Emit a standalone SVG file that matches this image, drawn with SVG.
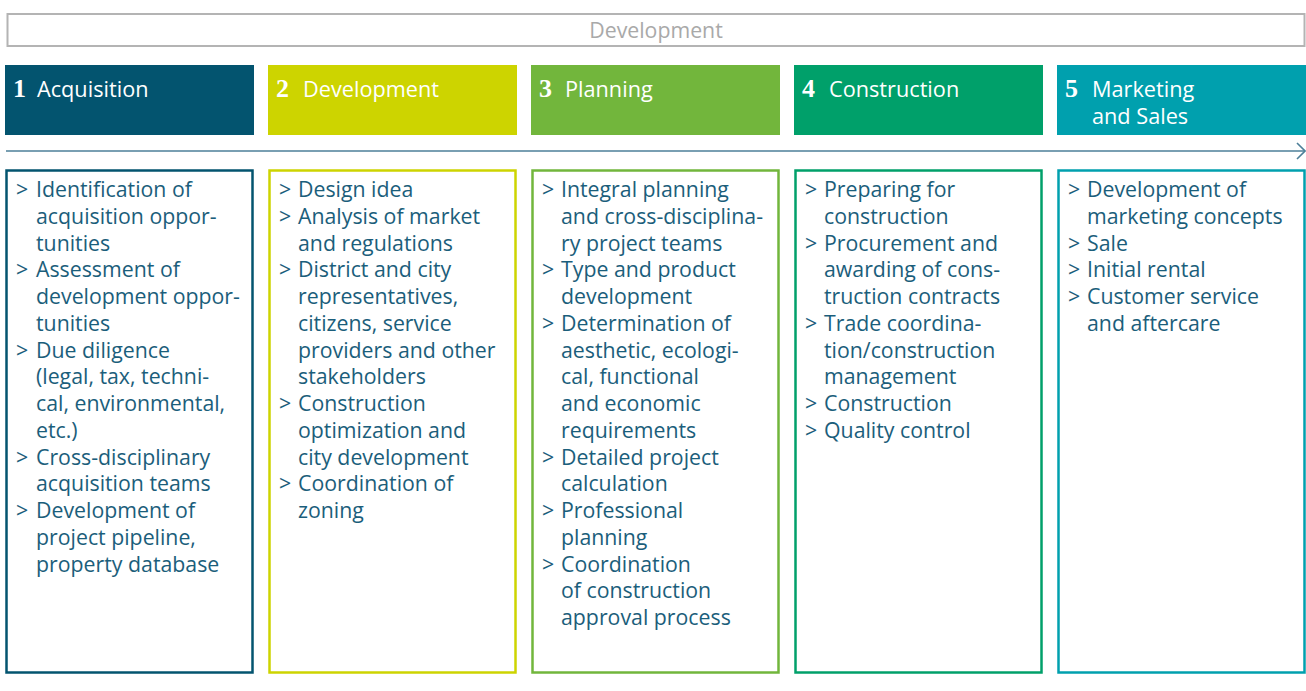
<svg xmlns="http://www.w3.org/2000/svg" width="1306" height="691" viewBox="0 0 1306 691">
  <style>
    .hd { font-family: "Open Sans", "Liberation Sans", sans-serif; font-size: 21.7px; fill: #ffffff; }
    .num { font-family: "Liberation Serif", serif; font-weight: bold; font-size: 26px; fill: #ffffff; }
    .tx { font-family: "Open Sans", "Liberation Sans", sans-serif; font-size: 21.3px; fill: #1b5e7b; }
    .box { fill: #ffffff; stroke-width: 2.5; }
  </style>
  <rect width="1306" height="691" fill="#ffffff"/>

  <!-- overall phase banner -->
  <g id="banner">
    <rect x="7.5" y="14" width="1297" height="32" fill="#ffffff" stroke="#b4b4b4" stroke-width="2"/>
    <text x="656" y="38" text-anchor="middle" font-family="'Open Sans', 'Liberation Sans', sans-serif" font-size="21.3" fill="#a9a9a9">Development</text>
  </g>

  <!-- timeline arrow -->
  <g id="connectors">
    <line x1="6" y1="151" x2="1305" y2="151" stroke="#4d7f98" stroke-width="1.6"/>
    <polyline points="1297,143 1305,151 1297,159" fill="none" stroke="#4d7f98" stroke-width="1.6"/>
  </g>

  <!-- 1 Acquisition -->
  <g id="acquisition">
    <rect x="5" y="65" width="249" height="70" fill="#03546f"/>
    <text class="num" x="13" y="97">1</text>
    <text class="hd" x="37" y="97">Acquisition</text>
    <rect class="box" x="6.5" y="170.5" width="246" height="502" stroke="#03546f"/>
    <text class="tx">
      <tspan x="16" y="197">&gt;</tspan><tspan x="36" y="197">Identification of</tspan>
      <tspan x="36" y="223.75">acquisition oppor-</tspan>
      <tspan x="36" y="250.5">tunities</tspan>
      <tspan x="16" y="277.25">&gt;</tspan><tspan x="36" y="277.25">Assessment of</tspan>
      <tspan x="36" y="304">development oppor-</tspan>
      <tspan x="36" y="330.75">tunities</tspan>
      <tspan x="16" y="357.5">&gt;</tspan><tspan x="36" y="357.5">Due diligence</tspan>
      <tspan x="36" y="384.25">(legal, tax, techni-</tspan>
      <tspan x="36" y="411">cal, environmental,</tspan>
      <tspan x="36" y="437.75">etc.)</tspan>
      <tspan x="16" y="464.5">&gt;</tspan><tspan x="36" y="464.5">Cross-disciplinary</tspan>
      <tspan x="36" y="491.25">acquisition teams</tspan>
      <tspan x="16" y="518">&gt;</tspan><tspan x="36" y="518">Development of</tspan>
      <tspan x="36" y="544.75">project pipeline,</tspan>
      <tspan x="36" y="571.5">property database</tspan>
    </text>
  </g>

  <!-- 2 Development -->
  <g id="development">
    <rect x="268" y="65" width="249" height="70" fill="#cdd400"/>
    <text class="num" x="276" y="97">2</text>
    <text class="hd" x="303" y="97">Development</text>
    <rect class="box" x="269.5" y="170.5" width="246" height="502" stroke="#cdd400"/>
    <text class="tx">
      <tspan x="279" y="197">&gt;</tspan><tspan x="298" y="197">Design idea</tspan>
      <tspan x="279" y="223.75">&gt;</tspan><tspan x="298" y="223.75">Analysis of market</tspan>
      <tspan x="298" y="250.5">and regulations</tspan>
      <tspan x="279" y="277.25">&gt;</tspan><tspan x="298" y="277.25">District and city</tspan>
      <tspan x="298" y="304">representatives,</tspan>
      <tspan x="298" y="330.75">citizens, service</tspan>
      <tspan x="298" y="357.5">providers and other</tspan>
      <tspan x="298" y="384.25">stakeholders</tspan>
      <tspan x="279" y="411">&gt;</tspan><tspan x="298" y="411">Construction</tspan>
      <tspan x="298" y="437.75">optimization and</tspan>
      <tspan x="298" y="464.5">city development</tspan>
      <tspan x="279" y="491.25">&gt;</tspan><tspan x="298" y="491.25">Coordination of</tspan>
      <tspan x="298" y="518">zoning</tspan>
    </text>
  </g>

  <!-- 3 Planning -->
  <g id="planning">
    <rect x="531" y="65" width="249" height="70" fill="#72b63c"/>
    <text class="num" x="539" y="97">3</text>
    <text class="hd" x="565" y="97">Planning</text>
    <rect class="box" x="532.5" y="170.5" width="246" height="502" stroke="#72b63c"/>
    <text class="tx">
      <tspan x="542" y="197">&gt;</tspan><tspan x="561" y="197">Integral planning</tspan>
      <tspan x="561" y="223.75">and cross-disciplina-</tspan>
      <tspan x="561" y="250.5">ry project teams</tspan>
      <tspan x="542" y="277.25">&gt;</tspan><tspan x="561" y="277.25">Type and product</tspan>
      <tspan x="561" y="304">development</tspan>
      <tspan x="542" y="330.75">&gt;</tspan><tspan x="561" y="330.75">Determination of</tspan>
      <tspan x="561" y="357.5">aesthetic, ecologi-</tspan>
      <tspan x="561" y="384.25">cal, functional</tspan>
      <tspan x="561" y="411">and economic</tspan>
      <tspan x="561" y="437.75">requirements</tspan>
      <tspan x="542" y="464.5">&gt;</tspan><tspan x="561" y="464.5">Detailed project</tspan>
      <tspan x="561" y="491.25">calculation</tspan>
      <tspan x="542" y="518">&gt;</tspan><tspan x="561" y="518">Professional</tspan>
      <tspan x="561" y="544.75">planning</tspan>
      <tspan x="542" y="571.5">&gt;</tspan><tspan x="561" y="571.5">Coordination</tspan>
      <tspan x="561" y="598.25">of construction</tspan>
      <tspan x="561" y="625">approval process</tspan>
    </text>
  </g>

  <!-- 4 Construction -->
  <g id="construction">
    <rect x="794" y="65" width="249" height="70" fill="#00a06a"/>
    <text class="num" x="802" y="97">4</text>
    <text class="hd" x="829" y="97">Construction</text>
    <rect class="box" x="795.5" y="170.5" width="246" height="502" stroke="#00a06a"/>
    <text class="tx">
      <tspan x="805" y="197">&gt;</tspan><tspan x="824" y="197">Preparing for</tspan>
      <tspan x="824" y="223.75">construction</tspan>
      <tspan x="805" y="250.5">&gt;</tspan><tspan x="824" y="250.5">Procurement and</tspan>
      <tspan x="824" y="277.25">awarding of cons-</tspan>
      <tspan x="824" y="304">truction contracts</tspan>
      <tspan x="805" y="330.75">&gt;</tspan><tspan x="824" y="330.75">Trade coordina-</tspan>
      <tspan x="824" y="357.5">tion/construction</tspan>
      <tspan x="824" y="384.25">management</tspan>
      <tspan x="805" y="411">&gt;</tspan><tspan x="824" y="411">Construction</tspan>
      <tspan x="805" y="437.75">&gt;</tspan><tspan x="824" y="437.75">Quality control</tspan>
    </text>
  </g>

  <!-- 5 Marketing and Sales -->
  <g id="marketing">
    <rect x="1057" y="65" width="249" height="70" fill="#00a0ae"/>
    <text class="num" x="1065" y="97">5</text>
    <text class="hd"><tspan x="1092" y="97">Marketing</tspan><tspan x="1092" y="124">and Sales</tspan></text>
    <rect class="box" x="1058.5" y="170.5" width="246" height="502" stroke="#00a0ae"/>
    <text class="tx">
      <tspan x="1068" y="197">&gt;</tspan><tspan x="1087" y="197">Development of</tspan>
      <tspan x="1087" y="223.75">marketing concepts</tspan>
      <tspan x="1068" y="250.5">&gt;</tspan><tspan x="1087" y="250.5">Sale</tspan>
      <tspan x="1068" y="277.25">&gt;</tspan><tspan x="1087" y="277.25">Initial rental</tspan>
      <tspan x="1068" y="304">&gt;</tspan><tspan x="1087" y="304">Customer service</tspan>
      <tspan x="1087" y="330.75">and aftercare</tspan>
    </text>
  </g>
</svg>
